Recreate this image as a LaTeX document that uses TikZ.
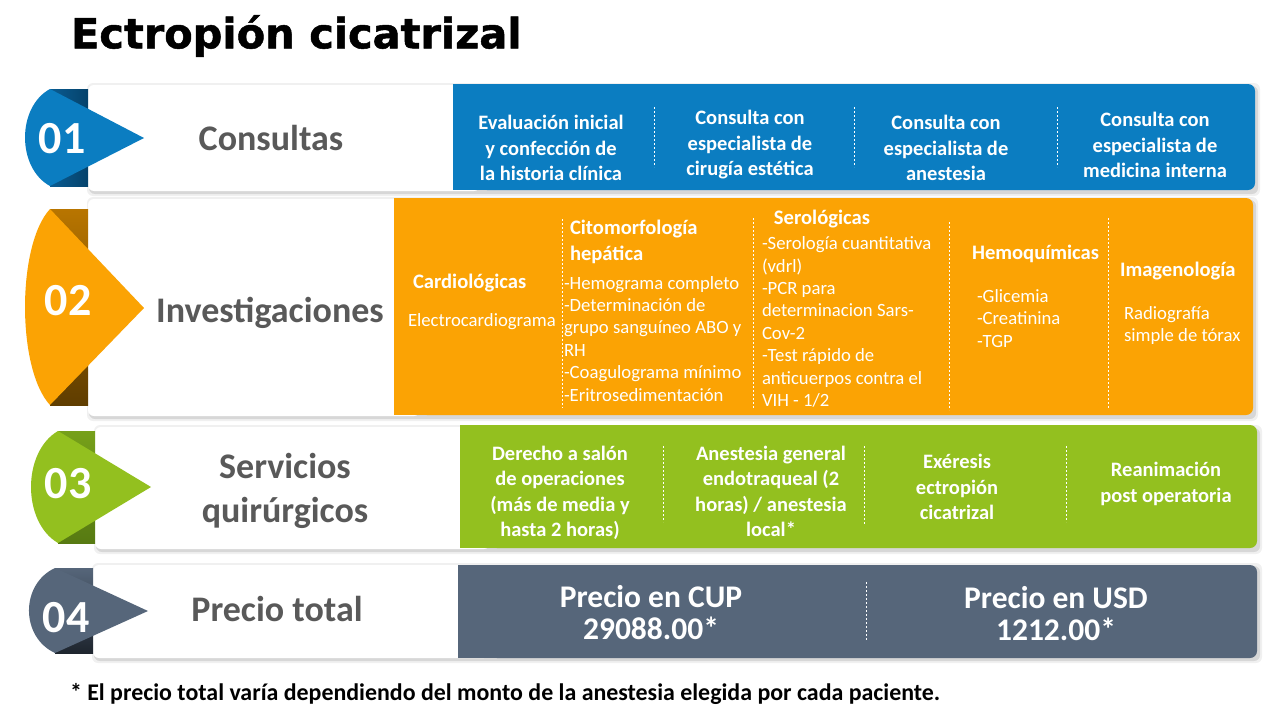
\documentclass[tikz,border=0pt]{standalone}
\usepackage{fontspec}
\setmainfont{Carlito}
\newfontfamily\titlefont{DejaVu Sans}[BoldFeatures={FakeBold=1.2}]
\usetikzlibrary{calc}
\definecolor{cblue}{HTML}{0B7DC1}
\definecolor{cbluedA}{HTML}{0A5C92}
\definecolor{cbluedB}{HTML}{05426B}
\definecolor{corange}{HTML}{FBA304}
\definecolor{corangedA}{HTML}{B87500}
\definecolor{corangedB}{HTML}{5F3D00}
\definecolor{cgreen}{HTML}{93C01F}
\definecolor{cgreendA}{HTML}{76A01A}
\definecolor{cgreendB}{HTML}{577A12}
\definecolor{cslate}{HTML}{56667A}
\definecolor{cslatedA}{HTML}{56667A}
\definecolor{cslatedB}{HTML}{1E252E}
\definecolor{labelgray}{HTML}{595959}
\tikzset{
  allnodes/.style={inner sep=0pt, outer sep=0pt},
  strutted/.style={execute at begin node=\strut, execute at end node=\strut},
  numtxt/.style={allnodes, strutted, font=\bfseries\fontsize{46}{56}\selectfont, text=white},
  lbltxt/.style={allnodes, strutted, font=\bfseries\fontsize{36}{44}\selectfont, text=labelgray, align=center},
  celltxt/.style={allnodes, strutted, font=\bfseries\fontsize{20.5}{25.5}\selectfont, text=white, align=center},
  headtxt/.style={allnodes, strutted, font=\bfseries\fontsize{20.6}{26}\selectfont, text=white, align=left},
  bodytxt/.style={allnodes, strutted, font=\fontsize{18.7}{22.4}\selectfont, text=white, align=left},
  pricetxt/.style={allnodes, strutted, font=\bfseries\fontsize{31.5}{32}\selectfont, text=white, align=center},
  divider/.style={white, line width=0.8pt, dash pattern=on 2pt off 2pt},
  cardshadow/.style={fill=black, opacity=0.10, rounded corners=6pt},
}
\begin{document}
\begin{tikzpicture}[x=1pt,y=-1pt]
\useasboundingbox (0,0) rectangle (1280,720);
\fill[white] (0,0) rectangle (1280,720);

% title
\node[allnodes, anchor=west, font=\titlefont\bfseries\fontsize{41.5}{48}\selectfont, text=black] (title) at (71,36) {Ectropión cicatrizal};

% ---------- shadows ----------
\foreach \xa/\ya/\xb/\yb in {88/85/1255/191, 88/199/1253/416, 95/427/1257/549, 93/565/1257/658}{
  \fill[cardshadow] (\xa+1,\ya+1) rectangle (\xb+3,\yb+3);
  \fill[cardshadow, opacity=0.06] (\xa-1,\ya-2) rectangle (\xb+5,\yb+5);
}

% ---------- row 1 ----------
\fill[white, rounded corners=6pt] (88,85) rectangle (480,191);
\fill[cblue, rounded corners=7pt] (480,84) rectangle (1255,190);
\fill[cblue] (453,84) rectangle (500,190);
\shade[left color=cbluedA, right color=cbluedB] (50,89) rectangle (88,186);
\fill[cblue] (50,89) .. controls (16.7,107) and (16.7,168) .. (50,186) -- (144,138) -- cycle;
\node[numtxt] (n1) at (62,142) {01};
\node[lbltxt] (l1) at (271,142) {Consultas};
\node[celltxt] (c11) at (551,152) {Evaluación inicial\\y confección de\\la historia clínica};
\node[celltxt] (c12) at (750,147) {Consulta con\\especialista de\\cirugía estética};
\node[celltxt] (c13) at (946,152) {Consulta con\\especialista de\\anestesia};
\node[celltxt] (c14) at (1155,149) {Consulta con\\especialista de\\medicina interna};
\draw[divider] (654,107) -- (654,167);
\draw[divider] (854,107) -- (854,167);
\draw[divider] (1057,107) -- (1057,167);

% ---------- row 2 ----------
\fill[white, rounded corners=6pt] (88,199) rectangle (420,416);
\fill[corange, rounded corners=7pt] (420,198) rectangle (1253,415);
\fill[corange] (394,198) rectangle (440,415);
\shade[top color=corangedA, bottom color=corangedB] (50,209) rectangle (88,405);
\fill[corange] (50,209) .. controls (16.7,245) and (16.7,369) .. (50,405) -- (144,308) -- cycle;
\node[numtxt] (n2) at (68,304) {02};
\node[lbltxt] (l2) at (270,314) {Investigaciones};

\node[headtxt, anchor=west] (h21) at (413,283) {Cardiológicas};
\node[bodytxt, anchor=west] (b21) at (408,322) {Electrocardiograma};
\node[headtxt, anchor=west] (h22) at (570,244) {Citomorfología\\hepática};
\node[bodytxt, anchor=west] (b22) at (564,342) {-Hemograma completo\\-Determinación de\\grupo sanguíneo ABO y\\RH\\-Coagulograma mínimo\\-Eritrosedimentación};
\node[headtxt, anchor=center] (h23) at (822,219) {Serológicas};
\node[bodytxt, anchor=west] (b23) at (762,325) {-Serología cuantitativa\\(vdrl)\\-PCR para\\determinacion Sars-\\Cov-2\\-Test rápido de\\anticuerpos contra el\\VIH - 1/2};
\node[headtxt, anchor=west] (h24) at (972,254) {Hemoquímicas};
\node[bodytxt, anchor=west] (b24) at (977,321.5) {-Glicemia\\-Creatinina\\-TGP};
\node[headtxt, anchor=west] (h25) at (1120,271) {Imagenología};
\node[bodytxt, anchor=west] (b25) at (1124,327.5) {Radiografía\\simple de tórax};
\draw[divider] (562,219) -- (562,408);
\draw[divider] (753,218) -- (753,408);
\draw[divider] (949,222) -- (949,410);
\draw[divider] (1108,218) -- (1108,408);

% ---------- row 3 ----------
\fill[white, rounded corners=6pt] (95,427) rectangle (490,549);
\fill[cgreen, rounded corners=7pt] (490,425) rectangle (1257,548);
\fill[cgreen] (460,425) rectangle (510,548);
\shade[top color=cgreendA, bottom color=cgreendB] (58,431) rectangle (95,543);
\fill[cgreen] (58,431) .. controls (22,452) and (22,522) .. (58,543) -- (151,487) -- cycle;
\node[numtxt] (n3) at (68,487) {03};
\node[lbltxt] (l3) at (285,494) {Servicios\\quirúrgicos};
\node[celltxt] (c31) at (560,495) {Derecho a salón\\de operaciones\\(más de media y\\hasta 2 horas)};
\node[celltxt] (c32) at (771,495) {Anestesia general\\endotraqueal (2\\horas) / anestesia\\local*};
\node[celltxt] (c33) at (957,491) {Exéresis\\ectropión\\cicatrizal};
\node[celltxt] (c34) at (1166,486) {Reanimación\\post operatoria};
\draw[divider] (663,446) -- (663,522);
\draw[divider] (864,446) -- (864,524);
\draw[divider] (1066,446) -- (1066,522);

% ---------- row 4 ----------
\fill[white, rounded corners=6pt] (93,565) rectangle (490,658);
\fill[cslate, rounded corners=7pt] (490,565) rectangle (1257,658);
\fill[cslate] (458,565) rectangle (510,658);
\shade[top color=cslatedA, bottom color=cslatedB] (55,568) rectangle (93,653);
\fill[cslate] (55,568) .. controls (20.3,584) and (20.3,637) .. (55,653) -- (148,611) -- cycle;
\node[numtxt] (n4) at (66,621) {04};
\node[lbltxt] (l4) at (277,613) {Precio total};
\node[pricetxt] (p1) at (651,617) {Precio en CUP\\29088.00*};
\node[pricetxt] (p2) at (1056,618) {Precio en USD\\1212.00*};
\draw[divider] (866,582) -- (866,640);

% footnote
\node[allnodes, anchor=west, font=\bfseries\fontsize{23.9}{28}\selectfont, text=black] (fn) at (70,694) {* El precio total varía dependiendo del monto de la anestesia elegida por cada paciente.};
\end{tikzpicture}
\end{document}
